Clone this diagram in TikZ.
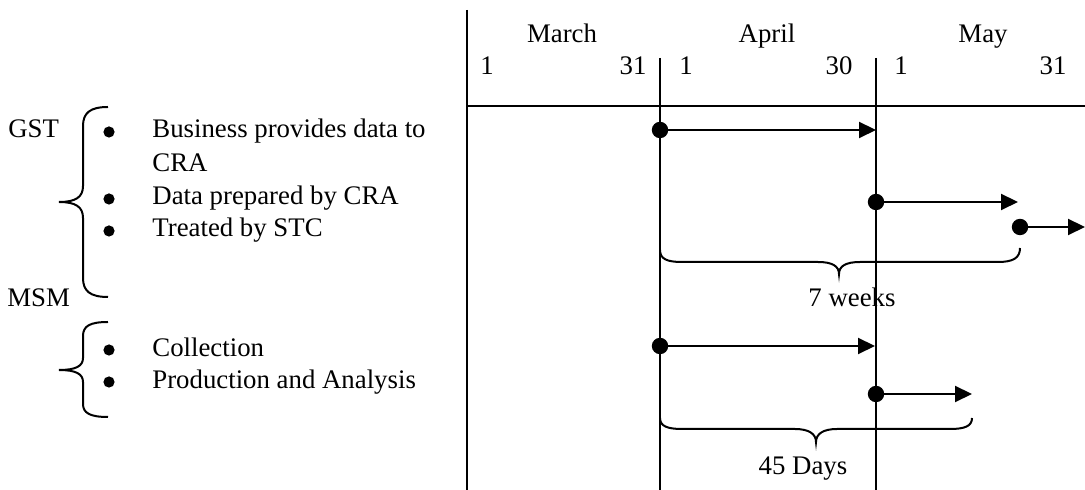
\documentclass[tikz,border=0pt]{standalone}
\usepackage{fontspec}
\setmainfont{Liberation Serif}
\usetikzlibrary{arrows.meta}
\begin{document}
\begin{tikzpicture}[x=0.5pt,y=-0.5pt,
  ln/.style={line width=1pt,black},
  txt/.style={inner sep=0pt,anchor=base,font=\fontsize{13.4}{15}\selectfont},
  ltxt/.style={txt,anchor=base west},
  bul/.style={fill=black,circle,inner sep=0pt,minimum size=5.6pt},
  dotstart/.style={fill=black,circle,inner sep=0pt,minimum size=8.2pt},
  arr/.style={ln,-{Triangle[length=8.5pt,width=8pt]}},
  brc/.style={line width=1pt}]
\useasboundingbox (0,0) rectangle (1085,490);
% frame lines
\coordinate (vt) at (467,10);
\coordinate (vb) at (467,490);
\coordinate (hl) at (467,106);
\coordinate (hr) at (1085,106);
\coordinate (a1t) at (660,58);
\coordinate (a1b) at (660,490);
\coordinate (a2t) at (876,58);
\coordinate (a2b) at (876,490);
\draw[ln] (vt) -- (vb);
\draw[ln] (hl) -- (hr);
\draw[ln] (a1t) -- (a1b);
\draw[ln] (a2t) -- (a2b);
% header
\node[txt] (mar) at (562,43) {March};
\node[txt] (apr) at (767,43) {April};
\node[txt] (may) at (983,43) {May};
\node[txt] (n1) at (487,75) {1};
\node[txt] (n2) at (633,75) {31};
\node[txt] (n3) at (686,75) {1};
\node[txt] (n4) at (839,75) {30};
\node[txt] (n5) at (901,75) {1};
\node[txt] (n6) at (1053,75) {31};
% arrows
\node[dotstart] (d1) at (660,130) {};
\coordinate (e1) at (876,130);
\draw[arr] (d1.center) -- (e1);
\node[dotstart] (d2) at (876,202) {};
\coordinate (e2) at (1018,202);
\draw[arr] (d2.center) -- (e2);
\node[dotstart] (d3) at (1020,227) {};
\coordinate (e3) at (1085,227);
\draw[arr] (d3.center) -- (e3);
\node[dotstart] (d4) at (660,346) {};
\coordinate (e4) at (875,346);
\draw[arr] (d4.center) -- (e4);
\node[dotstart] (d5) at (876,394) {};
\coordinate (e5) at (972,394);
\draw[arr] (d5.center) -- (e5);
% horizontal braces
\draw[brc] (660,250) .. controls (660,259) and (667,262) .. (682,262) -- (818,262)
  .. controls (832,262) and (839,266) .. (839,274)
  .. controls (839,266) and (846,262) .. (860,262) -- (998,262)
  .. controls (1013,262) and (1020,258) .. (1020,248);
\node[txt] (w7) at (852,307) {7 weeks};
\draw[brc] (660,418) .. controls (660,426) and (667,429) .. (682,429) -- (795,429)
  .. controls (809,429) and (816,434) .. (816,442)
  .. controls (816,434) and (823,429) .. (837,429) -- (950,429)
  .. controls (965,429) and (972,426) .. (972,418);
\node[txt] (d45) at (803,475) {45 Days};
% left braces
\draw[brc] (108,107) .. controls (90,107) and (83,113) .. (83,126) -- (83,186)
  .. controls (83,197) and (76,202) .. (59,202)
  .. controls (76,202) and (83,207) .. (83,218) -- (83,278)
  .. controls (83,291) and (90,297) .. (108,297);
\draw[brc] (108,322) .. controls (90,322) and (83,326) .. (83,336) -- (83,358)
  .. controls (83,366) and (76,370) .. (59,370)
  .. controls (76,370) and (83,374) .. (83,382) -- (83,404)
  .. controls (83,413) and (90,417) .. (108,417);
% left texts
\node[ltxt] (gst) at (8,138) {GST};
\node[ltxt] (msm) at (7,307) {MSM};
\node[bul] (b1) at (109,132) {};
\node[ltxt] (t1) at (152,138) {Business provides data to};
\node[ltxt] (t1b) at (152,172) {CRA};
\node[bul] (b2) at (109,199) {};
\node[ltxt] (t2) at (152,205) {Data prepared by CRA};
\node[bul] (b3) at (109,231) {};
\node[ltxt] (t3) at (152,237) {Treated by STC};
\node[bul] (b4) at (109,350) {};
\node[ltxt] (t4) at (152,357) {Collection};
\node[bul] (b5) at (109,382) {};
\node[ltxt] (t5) at (152,389) {Production and Analysis};
\end{tikzpicture}
\end{document}
